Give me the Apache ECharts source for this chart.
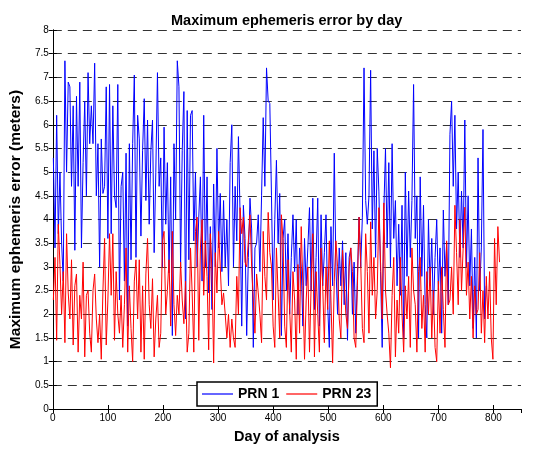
<!DOCTYPE html>
<html>
<head>
<meta charset="utf-8">
<script src="https://cdn.jsdelivr.net/npm/echarts@6/dist/echarts.min.js"></script>
<style>
  html, body { margin: 0; padding: 0; background: #fff; }
  #chart { width: 536px; height: 449px; }
</style>
</head>
<body>
<div id="chart"></div>
<script>
var myChart = echarts.init(document.getElementById('chart'))

// one reading every 3 days, starting on day 1
var firstDay = 1
var dayStep = 3

var prn1 = [
  5.3, 3.4, 6.2, 3.7, 5.0, 3.5, 2.7, 7.35, 5.0, 6.9,
  6.8, 4.7, 6.4, 3.35, 6.6, 4.7, 6.9, 3.4, 5.2, 6.5,
  4.5, 7.1, 5.6, 6.4, 5.6, 7.3, 4.5, 5.6, 3.0, 5.7,
  4.55, 4.7, 6.8, 3.6, 6.85, 3.7, 6.4, 4.5, 4.25, 6.85,
  2.3, 4.7, 5.0, 2.7, 5.4, 1.75, 5.6, 3.15, 5.6, 7.05,
  3.2, 6.2, 5.7, 3.65, 5.45, 6.55, 4.4, 6.1, 3.9, 5.45,
  6.1, 3.3, 5.0, 7.1, 4.7, 5.3, 3.0, 5.95, 3.9, 5.2,
  2.87, 4.9, 1.55, 5.6, 4.0, 7.35, 6.8, 3.0, 5.45, 6.7,
  1.9, 6.3, 3.15, 6.2, 6.3, 3.55, 5.0, 3.0, 4.05, 4.9,
  2.7, 6.2, 3.0, 4.9, 2.45, 3.85, 2.1, 4.75, 3.0, 5.5,
  3.4, 4.55, 2.9, 4.4, 3.0, 4.0, 2.6, 5.2, 6.0, 3.0,
  4.7, 3.55, 5.75, 4.1, 1.75, 4.3, 3.6, 1.55, 3.2, 4.45,
  3.8, 1.3, 3.4, 3.5, 4.1, 2.9, 4.5, 6.15, 4.7, 7.2,
  6.5, 6.45, 4.5, 2.3, 4.0, 5.25, 3.5, 4.55, 1.55, 3.6,
  4.0, 2.5, 3.7, 2.0, 3.2, 4.1, 2.9, 4.0, 2.0, 3.4,
  3.0, 1.75, 3.6, 2.6, 3.4, 4.25, 2.5, 4.45, 2.1, 3.2,
  4.45, 1.75, 4.1, 2.6, 3.3, 4.1, 2.2, 1.3, 3.85, 2.6,
  5.4, 3.0, 2.0, 3.4, 2.6, 3.55, 2.2, 3.3, 1.45, 3.2,
  3.4, 2.0, 3.1, 1.6, 2.8, 4.05, 3.0, 4.05, 7.2, 4.4,
  3.9, 4.5, 7.15, 3.8, 5.45, 3.2, 5.5, 4.6, 2.9, 1.3,
  4.2, 5.5, 3.4, 5.2, 3.0, 5.6, 3.6, 4.4, 2.6, 3.9,
  2.4, 4.3, 1.5, 5.0, 2.8, 4.6, 3.2, 4.4, 6.85, 3.6,
  4.5, 1.5, 4.9, 2.8, 4.3, 2.2, 1.5, 4.0, 2.6, 3.6,
  2.0, 3.2, 4.0, 2.5, 3.4, 1.6, 4.2, 2.8, 3.5, 2.2,
  5.8, 6.5, 4.7, 6.2, 3.8, 5.0, 3.2, 4.6, 3.4, 6.1,
  3.0, 4.5, 2.6, 3.8, 1.7, 3.2, 1.5, 5.3, 2.5, 3.4,
  5.9, 1.9, 2.6
]

var prn23 = [
  2.3, 3.2, 1.45, 3.9, 3.05, 2.0, 2.9, 1.4, 3.7, 2.45,
  1.9, 3.15, 1.35, 2.6, 2.85, 1.2, 2.4, 1.9, 3.1, 1.1,
  2.4, 2.5, 1.6, 1.2, 2.5, 2.85, 1.9, 1.4, 2.0, 1.05,
  2.5, 3.6, 1.35, 2.3, 3.7, 2.4, 3.7, 1.45, 2.9, 2.0,
  1.6, 2.4, 1.3, 2.2, 3.4, 1.2, 2.6, 1.7, 1.0, 2.7,
  3.15, 1.9, 3.15, 1.2, 2.6, 1.05, 2.85, 3.6, 2.2, 1.7,
  2.75, 1.1, 1.9, 2.4, 1.3, 1.6, 3.55, 3.75, 2.0, 2.5,
  3.15, 1.75, 3.75, 2.2, 1.55, 2.4, 2.0, 3.1, 2.3, 1.8,
  2.7, 1.2, 1.6, 3.4, 2.45, 1.2, 3.75, 4.05, 1.45, 3.4,
  4.0, 2.4, 3.55, 2.8, 1.25, 3.7, 2.9, 0.97, 3.3, 2.45,
  3.75, 3.0, 2.2, 2.45, 2.0, 1.5, 2.0, 1.3, 1.9, 1.5,
  1.3, 2.8, 2.0, 4.25, 3.7, 4.05, 3.1, 3.0, 3.55, 4.1,
  3.0, 2.3, 1.6, 2.85, 2.45, 2.0, 1.4, 3.75, 2.8, 2.3,
  4.15, 3.3, 3.0, 1.75, 1.3, 3.4, 2.45, 1.5, 4.1, 3.55,
  1.75, 1.3, 3.15, 2.1, 1.2, 2.9, 2.3, 1.05, 3.05, 1.6,
  3.85, 2.6, 1.05, 2.3, 3.0, 1.2, 2.6, 3.7, 1.1, 2.9,
  2.0, 1.2, 3.4, 2.6, 1.4, 3.0, 2.1, 3.55, 2.3, 0.97,
  2.7, 3.55, 3.0, 1.9, 1.5, 3.35, 2.7, 2.0, 1.7, 3.0,
  3.4, 2.9, 1.5, 1.3, 2.6, 4.05, 3.1, 1.7, 1.4, 3.7,
  2.9, 1.6, 3.95, 2.4, 3.2, 1.9, 2.5, 4.25, 3.1, 1.9,
  4.35, 2.5, 2.0, 1.6, 0.87, 2.4, 3.2, 1.1, 2.3, 1.6,
  3.2, 2.0, 1.2, 2.6, 1.9, 2.8, 1.3, 3.4, 2.5, 2.2,
  1.2, 2.9, 3.2, 1.7, 2.4, 1.2, 2.9, 2.0, 3.0, 1.5,
  2.5, 1.3, 1.0, 2.7, 1.6, 3.0, 2.1, 1.3, 3.55, 2.2,
  2.3, 3.0, 2.0, 4.3, 3.3, 2.2, 4.0, 2.5, 3.4, 4.26,
  2.4, 3.1, 1.9, 2.8, 1.5, 2.6, 2.0, 2.1, 3.3, 1.6,
  2.5, 1.4, 2.8, 1.9, 2.9, 1.5, 1.05, 3.6, 2.2, 3.85,
  3.1
]

var seriesNames = ['PRN 1', 'PRN 23']

function toPairs(vals) {
  return vals.map(function (v, i) { return [firstDay + i * dayStep, v] })
}

var font = 'Liberation Sans, Arial, Helvetica, sans-serif'

var option = {
  animation: false,
  title: {
    text: 'Maximum ephemeris error by day',
    left: 166,
    top: 8,
    textStyle: { fontFamily: font, fontSize: 14.5, fontWeight: 'bold', color: '#000' },
  },
  legend: {
    data: seriesNames,
    left: 197,
    top: 382,
    orient: 'horizontal',
    icon: 'rect',
    backgroundColor: '#fff',
    borderColor: '#000',
    borderWidth: 1.5,
    borderRadius: 0,
    padding: [4, 6, 4, 5],
    itemWidth: 31,
    itemHeight: 1.2,
    itemGap: 7,
    textStyle: { fontFamily: font, fontSize: 14, fontWeight: 'bold', color: '#000', lineHeight: 16 },
  },
  grid: { left: 51, right: 15, top: 30, bottom: 39 },
  xAxis: [
    {
      type: 'value',
      min: 0,
      max: 850,
      interval: 100,
      name: 'Day of analysis',
      nameLocation: 'middle',
      nameGap: 20,
      nameTextStyle: { fontFamily: font, fontSize: 14.5, fontWeight: 'bold', color: '#000' },
      axisLine: { lineStyle: { color: '#000', width: 1 } },
      axisTick: { inside: true, length: 4, lineStyle: { color: '#000' } },
      axisLabel: { fontFamily: font, fontSize: 10, color: '#000', margin: 4, showMaxLabel: false },
      splitLine: { show: false },
    },
    {
      type: 'value',
      position: 'top',
      min: 0,
      max: 850,
      interval: 100,
      axisLine: { lineStyle: { color: '#000', width: 1 } },
      axisTick: { inside: true, length: 4, lineStyle: { color: '#000' } },
      axisLabel: { show: false },
      splitLine: { show: false },
    },
  ],
  yAxis: [
    {
      type: 'value',
      min: 0,
      max: 8,
      interval: 0.5,
      name: 'Maximum ephemeris error (meters)',
      nameLocation: 'middle',
      nameGap: 21,
      nameTextStyle: { fontFamily: font, fontSize: 15.5, fontWeight: 'bold', color: '#000' },
      axisLine: { show: true, lineStyle: { color: '#000', width: 1 } },
      axisTick: { show: true, inside: true, length: 4, lineStyle: { color: '#000' } },
      axisLabel: { fontFamily: font, fontSize: 10, color: '#000', margin: 4 },
      splitLine: { show: true, lineStyle: { color: '#333', type: [9, 6], width: 1 } },
    },
    {
      type: 'value',
      position: 'right',
      min: 0,
      max: 8,
      interval: 0.5,
      axisLine: { show: true, lineStyle: { color: '#000', width: 1 } },
      axisTick: { show: true, inside: true, length: 4, lineStyle: { color: '#000' } },
      axisLabel: { show: false },
      splitLine: { show: false },
    },
  ],
  series: [
    {
      name: seriesNames[0],
      type: 'line',
      data: toPairs(prn1),
      symbol: 'none',
      lineStyle: { color: '#0000ff', width: 1 },
      itemStyle: { color: '#0000ff' },
    },
    {
      name: seriesNames[1],
      type: 'line',
      data: toPairs(prn23),
      symbol: 'none',
      lineStyle: { color: '#ff0000', width: 1 },
      itemStyle: { color: '#ff0000' },
    },
  ],
}

myChart.setOption(option)
</script>
</body>
</html>
